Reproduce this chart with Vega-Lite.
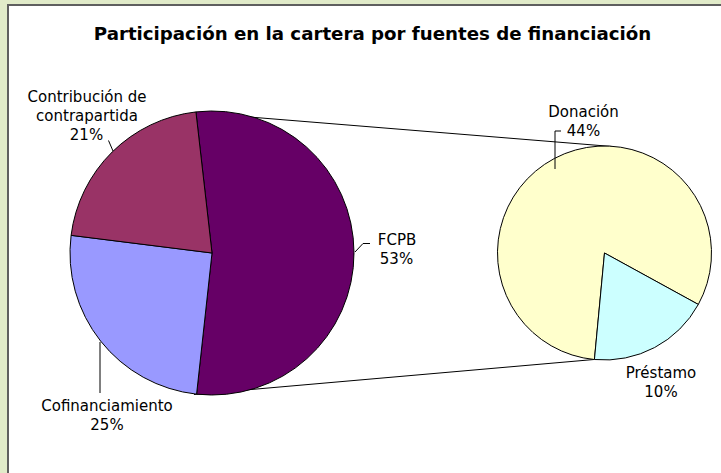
{
  "$schema": "https://vega.github.io/schema/vega-lite/v6.json",
  "width": 721,
  "height": 473,
  "autosize": {"type": "none"},
  "padding": 0,
  "background": "#E1EBC9",
  "title": {
    "text": "Participación en la cartera por fuentes de financiación",
    "font": "DejaVu Sans",
    "fontSize": 18.2,
    "fontWeight": "bold",
    "color": "#000000",
    "anchor": "middle",
    "frame": "group",
    "baseline": "alphabetic",
    "offset": -58,
    "dx": 12
  },
  "config": {
    "view": {"stroke": null},
    "axis": {"disable": true},
    "text": {"font": "DejaVu Sans", "fontSize": 15, "align": "center", "baseline": "alphabetic", "fill": "#000000"},
    "rule": {"stroke": "#000000", "strokeWidth": 1}
  },
  "datasets": {
    "cartera": [
      {"fuente": "FCPB", "participacion": 0.53},
      {"fuente": "Cofinanciamiento", "participacion": 0.25},
      {"fuente": "Contribución de contrapartida", "participacion": 0.21}
    ],
    "fcpb": [
      {"fuente": "Donación", "participacion": 0.44},
      {"fuente": "Préstamo", "participacion": 0.10}
    ],
    "marco": [{"elemento": "marco"}]
  },
  "resolve": {"scale": {"theta": "independent"}},
  "layer": [
    {
      "data": {"name": "marco"},
      "mark": {"type": "rect", "fill": "#FFFFFF", "stroke": "#5F5F5F", "strokeWidth": 2},
      "encoding": {
        "x": {"datum": 8, "type": "quantitative", "scale": {"domain": [0, 721], "nice": false}, "axis": null},
        "x2": {"datum": 760},
        "y": {"datum": 5, "type": "quantitative", "scale": {"domain": [0, 473], "nice": false, "reverse": true}, "axis": null},
        "y2": {"datum": 520}
      }
    },
    {
      "data": {"name": "marco"},
      "mark": "rule",
      "encoding": {
        "x": {"datum": 194, "type": "quantitative", "scale": {"domain": [0, 721], "nice": false}},
        "x2": {"datum": 612},
        "y": {"datum": 112.5, "type": "quantitative", "scale": {"domain": [0, 473], "nice": false, "reverse": true}},
        "y2": {"datum": 146.5}
      }
    },
    {
      "data": {"name": "marco"},
      "mark": "rule",
      "encoding": {
        "x": {"datum": 194, "type": "quantitative", "scale": {"domain": [0, 721], "nice": false}},
        "x2": {"datum": 594},
        "y": {"datum": 394.5, "type": "quantitative", "scale": {"domain": [0, 473], "nice": false, "reverse": true}},
        "y2": {"datum": 359.5}
      }
    },
    {
      "data": {"name": "cartera"},
      "mark": {"type": "arc", "outerRadius": 142, "stroke": "#000000", "strokeWidth": 1},
      "encoding": {
        "x": {"datum": 212, "type": "quantitative", "scale": {"domain": [0, 721], "nice": false}},
        "y": {"datum": 253, "type": "quantitative", "scale": {"domain": [0, 473], "nice": false, "reverse": true}},
        "theta": {"field": "participacion", "type": "quantitative", "stack": true, "scale": {"range": [-0.1134, 6.1698]}},
        "order": {"field": "participacion", "sort": "descending"},
        "color": {
          "field": "fuente",
          "type": "nominal",
          "scale": {
            "domain": ["FCPB", "Cofinanciamiento", "Contribución de contrapartida", "Donación", "Préstamo"],
            "range": ["#660066", "#9999FF", "#993366", "#FFFFCC", "#CCFFFF"]
          },
          "legend": null
        }
      }
    },
    {
      "data": {"name": "fcpb"},
      "mark": {"type": "arc", "outerRadius": 107, "stroke": "#000000", "strokeWidth": 1},
      "encoding": {
        "x": {"datum": 604.5, "type": "quantitative", "scale": {"domain": [0, 721], "nice": false}},
        "y": {"datum": 253, "type": "quantitative", "scale": {"domain": [0, 473], "nice": false, "reverse": true}},
        "theta": {"field": "participacion", "type": "quantitative", "stack": true, "scale": {"range": [3.236, 9.519]}},
        "order": {"field": "participacion", "sort": "descending"},
        "color": {"field": "fuente", "type": "nominal", "legend": null}
      }
    },
    {
      "data": {"name": "marco"},
      "mark": "rule",
      "encoding": {
        "x": {"datum": 108.5, "type": "quantitative"}, "x2": {"datum": 113},
        "y": {"datum": 140.5, "type": "quantitative"}, "y2": {"datum": 151}
      }
    },
    {
      "data": {"name": "marco"},
      "mark": "rule",
      "encoding": {
        "x": {"datum": 100, "type": "quantitative"}, "x2": {"datum": 100},
        "y": {"datum": 342, "type": "quantitative"}, "y2": {"datum": 393}
      }
    },
    {
      "data": {"name": "marco"},
      "mark": "rule",
      "encoding": {
        "x": {"datum": 355, "type": "quantitative"}, "x2": {"datum": 363},
        "y": {"datum": 252, "type": "quantitative"}, "y2": {"datum": 243.5}
      }
    },
    {
      "data": {"name": "marco"},
      "mark": "rule",
      "encoding": {
        "x": {"datum": 363, "type": "quantitative"}, "x2": {"datum": 370},
        "y": {"datum": 243.5, "type": "quantitative"}, "y2": {"datum": 243.5}
      }
    },
    {
      "data": {"name": "marco"},
      "mark": "rule",
      "encoding": {
        "x": {"datum": 555, "type": "quantitative"}, "x2": {"datum": 555},
        "y": {"datum": 169, "type": "quantitative"}, "y2": {"datum": 131}
      }
    },
    {
      "data": {"name": "marco"},
      "mark": "rule",
      "encoding": {
        "x": {"datum": 555, "type": "quantitative"}, "x2": {"datum": 561},
        "y": {"datum": 131, "type": "quantitative"}, "y2": {"datum": 131}
      }
    },
    {
      "data": {"name": "cartera"},
      "transform": [{"filter": "datum.fuente === 'Contribución de contrapartida'"}],
      "mark": {"type": "text", "lineBreak": {"expr": "regexp('(?<= de) ')"}, "lineHeight": 19},
      "encoding": {
        "x": {"datum": 87, "type": "quantitative"},
        "y": {"datum": 102, "type": "quantitative"},
        "text": {"field": "fuente"}
      }
    },
    {
      "data": {"name": "cartera"},
      "transform": [{"filter": "datum.fuente === 'Contribución de contrapartida'"}],
      "mark": "text",
      "encoding": {
        "x": {"datum": 86.5, "type": "quantitative"},
        "y": {"datum": 140, "type": "quantitative"},
        "text": {"field": "participacion", "type": "quantitative", "format": ".0%"}
      }
    },
    {
      "data": {"name": "cartera"},
      "transform": [{"filter": "datum.fuente === 'Cofinanciamiento'"}],
      "mark": "text",
      "encoding": {
        "x": {"datum": 107, "type": "quantitative"},
        "y": {"datum": 411, "type": "quantitative"},
        "text": {"field": "fuente"}
      }
    },
    {
      "data": {"name": "cartera"},
      "transform": [{"filter": "datum.fuente === 'Cofinanciamiento'"}],
      "mark": "text",
      "encoding": {
        "x": {"datum": 107, "type": "quantitative"},
        "y": {"datum": 430, "type": "quantitative"},
        "text": {"field": "participacion", "type": "quantitative", "format": ".0%"}
      }
    },
    {
      "data": {"name": "cartera"},
      "transform": [{"filter": "datum.fuente === 'FCPB'"}],
      "mark": "text",
      "encoding": {
        "x": {"datum": 397, "type": "quantitative"},
        "y": {"datum": 245, "type": "quantitative"},
        "text": {"field": "fuente"}
      }
    },
    {
      "data": {"name": "cartera"},
      "transform": [{"filter": "datum.fuente === 'FCPB'"}],
      "mark": "text",
      "encoding": {
        "x": {"datum": 396.5, "type": "quantitative"},
        "y": {"datum": 264, "type": "quantitative"},
        "text": {"field": "participacion", "type": "quantitative", "format": ".0%"}
      }
    },
    {
      "data": {"name": "fcpb"},
      "transform": [{"filter": "datum.fuente === 'Donación'"}],
      "mark": "text",
      "encoding": {
        "x": {"datum": 583.5, "type": "quantitative"},
        "y": {"datum": 116.7, "type": "quantitative"},
        "text": {"field": "fuente"}
      }
    },
    {
      "data": {"name": "fcpb"},
      "transform": [{"filter": "datum.fuente === 'Donación'"}],
      "mark": "text",
      "encoding": {
        "x": {"datum": 583.5, "type": "quantitative"},
        "y": {"datum": 136, "type": "quantitative"},
        "text": {"field": "participacion", "type": "quantitative", "format": ".0%"}
      }
    },
    {
      "data": {"name": "fcpb"},
      "transform": [{"filter": "datum.fuente === 'Préstamo'"}],
      "mark": "text",
      "encoding": {
        "x": {"datum": 661, "type": "quantitative"},
        "y": {"datum": 378.3, "type": "quantitative"},
        "text": {"field": "fuente"}
      }
    },
    {
      "data": {"name": "fcpb"},
      "transform": [{"filter": "datum.fuente === 'Préstamo'"}],
      "mark": "text",
      "encoding": {
        "x": {"datum": 661, "type": "quantitative"},
        "y": {"datum": 396.7, "type": "quantitative"},
        "text": {"field": "participacion", "type": "quantitative", "format": ".0%"}
      }
    }
  ]
}
